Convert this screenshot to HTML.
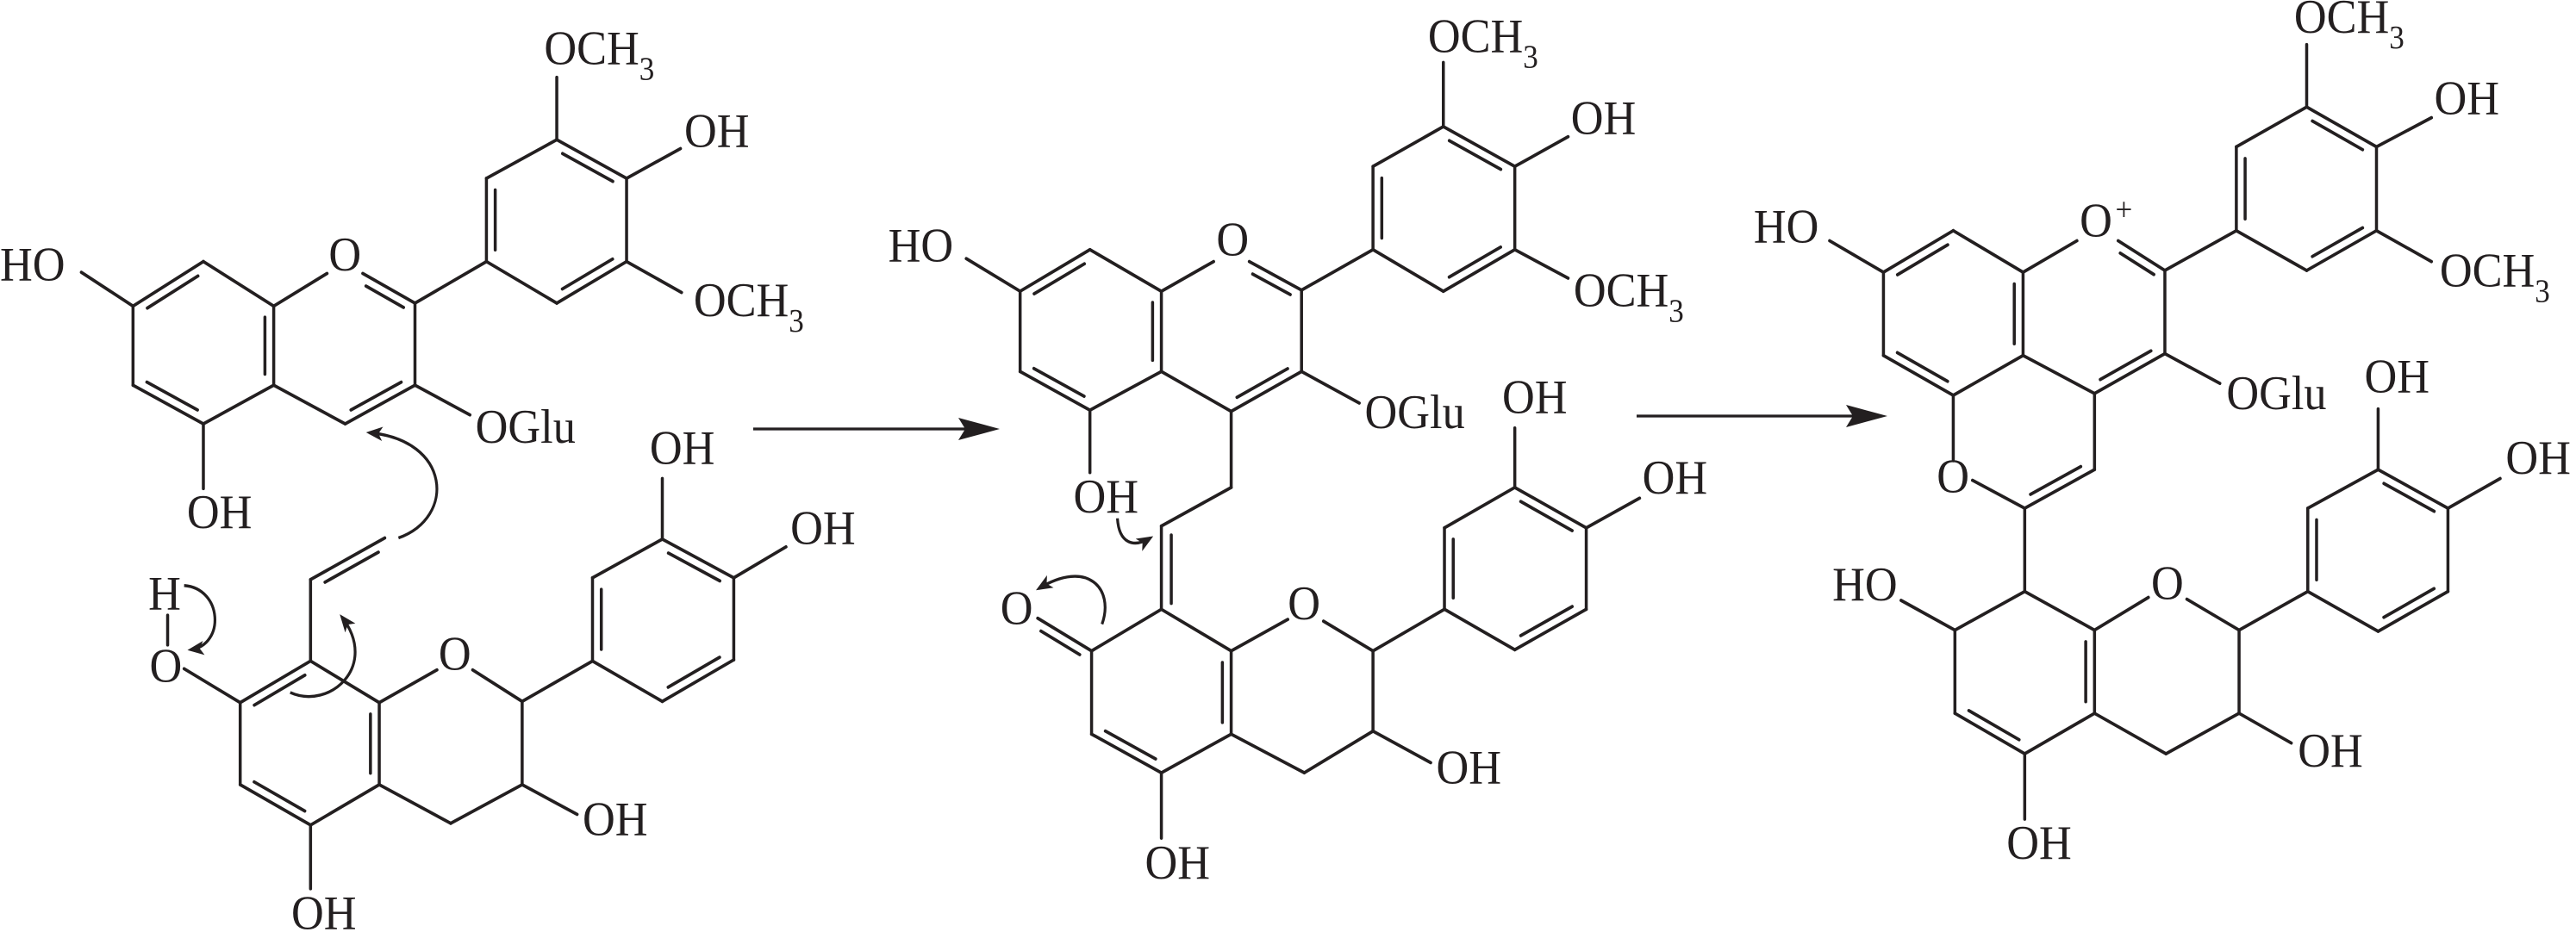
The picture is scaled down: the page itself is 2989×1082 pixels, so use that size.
<!DOCTYPE html>
<html><head><meta charset="utf-8"><style>
html,body{margin:0;padding:0;background:#fff;}
svg{display:block;}
text{font-family:"Liberation Serif",serif;fill:#231f20;}
</style></head><body>
<svg id="s" width="2989" height="1082" viewBox="0 0 2989 1082" xmlns="http://www.w3.org/2000/svg">
<defs>
<marker id="ah" viewBox="0 0 10 10" refX="8" refY="5" markerWidth="6" markerHeight="6" orient="auto" markerUnits="strokeWidth"><path d="M0,1 L10,5 L0,9 L2.5,5 z" fill="#231f20"/></marker>
</defs>
<!-- reaction arrows -->
<line x1="874" y1="498" x2="1125" y2="498" stroke="#231f20" stroke-width="3.2"/>
<polygon points="1160,498 1112,485 1120,498 1112,511" fill="#231f20"/>
<line x1="1899" y1="483" x2="2155" y2="483" stroke="#231f20" stroke-width="3.2"/>
<polygon points="2190,483 2142,470 2150,483 2142,496" fill="#231f20"/>

<g id="g1" transform="scale(0.63776,0.6901)" font-size="82">
<text x="0" y="472">HO</text>
<text x="340" y="888">OH</text>
<text x="598" y="455">O</text>
<text x="990" y="108">OCH<tspan font-size="55" dy="26">3</tspan></text>
<text x="1245" y="247">OH</text>
<text x="1262" y="532">OCH<tspan font-size="55" dy="26">3</tspan></text>
<text x="865" y="745">OGlu</text>
<text x="1182" y="780">OH</text>
<text x="1438" y="915">OH</text>
<text x="798" y="1127">O</text>
<text x="1060" y="1405">OH</text>
<text x="530" y="1563">OH</text>
<text x="270" y="1025">H</text>
<text x="272" y="1147">O</text>
<path d="M725,905 C830,870 820,740 672,728" fill="none" stroke="#231f20" stroke-width="5" marker-end="url(#ah)"/>
<path d="M528,1165 C600,1195 690,1120 622,1038" fill="none" stroke="#231f20" stroke-width="5" marker-end="url(#ah)"/>
<path d="M335,985 C405,990 410,1085 347,1093" fill="none" stroke="#231f20" stroke-width="5" marker-end="url(#ah)"/>
</g>

<g id="g2" transform="translate(1000,0) scale(0.63776,0.6901)" font-size="82">
<text x="48" y="440">HO</text>
<text x="385" y="862">OH</text>
<text x="645" y="430">O</text>
<text x="1030" y="88">OCH<tspan font-size="55" dy="26">3</tspan></text>
<text x="1290" y="225">OH</text>
<text x="1295" y="515">OCH<tspan font-size="55" dy="26">3</tspan></text>
<text x="915" y="720">OGlu</text>
<text x="1165" y="695">OH</text>
<text x="1420" y="830">OH</text>
<text x="252" y="1050">O</text>
<text x="775" y="1042">O</text>
<text x="1045" y="1318">OH</text>
<text x="515" y="1478">OH</text>
<path d="M465,872 C468,915 495,922 525,905" fill="none" stroke="#231f20" stroke-width="5" marker-end="url(#ah)"/>
<path d="M437,1050 C460,990 410,940 322,990" fill="none" stroke="#231f20" stroke-width="5" marker-end="url(#ah)"/>
</g>

<g id="g3" transform="translate(1989,0) scale(0.63776,0.6901)" font-size="82">
<text x="72" y="408">HO</text>
<text x="665" y="398">O</text><text x="730" y="370" font-size="55">+</text>
<text x="1055" y="55">OCH<tspan font-size="55" dy="26">3</tspan></text>
<text x="1310" y="192">OH</text>
<text x="1320" y="482">OCH<tspan font-size="55" dy="26">3</tspan></text>
<text x="932" y="688">OGlu</text>
<text x="405" y="828">O</text>
<text x="215" y="1010">HO</text>
<text x="795" y="1008">O</text>
<text x="1183" y="660">OH</text>
<text x="1440" y="797">OH</text>
<text x="1062" y="1290">OH</text>
<text x="532" y="1445">OH</text>
</g>
</svg>
<script>
(function(){
var NS="http://www.w3.org/2000/svg";
function L(g,a,b,c,d){var l=document.createElementNS(NS,"line");l.setAttribute("x1",a);l.setAttribute("y1",b);l.setAttribute("x2",c);l.setAttribute("y2",d);l.setAttribute("stroke","#231f20");l.setAttribute("stroke-width","5.5");l.setAttribute("stroke-linecap","round");g.appendChild(l);}
function D(g,a,b,c,d,cx,cy){var mx=(a+c)/2,my=(b+d)/2,dx=c-a,dy=d-b,len=Math.sqrt(dx*dx+dy*dy);var nx=-dy/len,ny=dx/len;if((cx-mx)*nx+(cy-my)*ny<0){nx=-nx;ny=-ny;}var o=16,s=0.14;L(g,a+dx*s+nx*o,b+dy*s+ny*o,c-dx*s+nx*o,d-dy*s+ny*o);}
function P(g,pts){for(var i=0;i<pts.length;i++){var p=pts[i],q=pts[(i+1)%pts.length];L(g,p[0],p[1],q[0],q[1]);}}
var g1=document.getElementById("g1"),g2=document.getElementById("g2"),g3=document.getElementById("g3");
// ---- molecule 1
P(g1,[[370,440],[498,515],[498,648],[370,713],[242,648],[242,515]]);
D(g1,370,440,242,515,370,580);D(g1,242,648,370,713,370,580);D(g1,498,515,498,648,370,580);
L(g1,498,515,595,460);L(g1,660,460,755,510);D(g1,660,460,755,510,628,580);L(g1,755,510,755,648);L(g1,755,648,628,713);D(g1,755,648,628,713,628,580);L(g1,628,713,498,648);
L(g1,148,458,242,515);L(g1,370,713,370,822);
L(g1,755,510,885,440);
P(g1,[[885,440],[885,300],[1013,235],[1140,300],[1140,440],[1013,510]]);
D(g1,885,300,885,440,1013,370);D(g1,1013,235,1140,300,1013,370);D(g1,1140,440,1013,510,1013,370);
L(g1,1013,235,1013,130);L(g1,1140,300,1238,250);L(g1,1140,440,1240,492);L(g1,755,648,855,698);
P(g1,[[565,1112],[690,1182],[690,1320],[565,1388],[437,1320],[437,1182]]);
D(g1,437,1182,565,1112,565,1250);D(g1,690,1182,690,1320,565,1250);D(g1,437,1320,565,1388,565,1250);
L(g1,690,1182,795,1127);L(g1,860,1127,950,1180);L(g1,950,1180,950,1320);L(g1,950,1320,820,1385);L(g1,820,1385,690,1320);
L(g1,950,1320,1050,1370);L(g1,565,1388,565,1495);
L(g1,950,1180,1078,1112);
P(g1,[[1078,1112],[1078,972],[1205,907],[1335,972],[1335,1110],[1205,1180]]);
D(g1,1078,972,1078,1112,1205,1042);D(g1,1205,907,1335,972,1205,1042);D(g1,1335,1110,1205,1180,1205,1042);
L(g1,1205,907,1205,805);L(g1,1335,972,1430,920);
L(g1,437,1182,335,1125);L(g1,305,1035,305,1085);
L(g1,565,1112,565,975);L(g1,565,975,700,905);D(g1,565,975,700,905,660,990);
// ---- molecule 2
P(g2,[[415,420],[545,490],[545,625],[415,690],[288,625],[288,490]]);
D(g2,415,420,288,490,415,555);D(g2,288,625,415,690,415,555);D(g2,545,490,545,625,415,555);
L(g2,545,490,640,440);L(g2,705,440,800,488);D(g2,705,440,800,488,672,555);L(g2,800,488,800,625);L(g2,800,625,672,692);D(g2,800,625,672,692,672,555);L(g2,672,692,545,625);
L(g2,190,435,288,490);L(g2,415,690,415,795);
L(g2,800,488,930,420);
P(g2,[[930,420],[930,280],[1058,213],[1188,280],[1188,420],[1058,490]]);
D(g2,930,280,930,420,1058,350);D(g2,1058,213,1188,280,1058,350);D(g2,1188,420,1058,490,1058,350);
L(g2,1058,213,1058,105);L(g2,1188,280,1285,230);L(g2,1188,420,1285,468);L(g2,800,625,905,678);
L(g2,672,692,672,820);L(g2,672,820,545,885);
L(g2,545,885,545,1025);L(g2,563,900,563,1015);
P(g2,[[545,1025],[672,1095],[672,1235],[545,1300],[418,1235],[418,1095]]);
D(g2,672,1095,672,1235,545,1165);D(g2,418,1235,545,1300,545,1165);
L(g2,418,1095,320,1040);D(g2,418,1095,320,1040,300,1100);
L(g2,672,1095,775,1042);L(g2,840,1045,930,1095);L(g2,930,1095,930,1230);L(g2,930,1230,805,1300);L(g2,805,1300,672,1235);
L(g2,930,1230,1035,1283);L(g2,545,1300,545,1410);
L(g2,930,1095,1060,1025);
P(g2,[[1060,1025],[1060,888],[1188,820],[1318,888],[1318,1025],[1188,1093]]);
D(g2,1060,888,1060,1025,1188,957);D(g2,1188,820,1318,888,1188,957);D(g2,1318,1025,1188,1093,1188,957);
L(g2,1188,820,1188,720);L(g2,1318,888,1415,838);
// ---- molecule 3
P(g3,[[435,388],[562,458],[562,598],[435,665],[308,598],[308,458]]);
D(g3,435,388,308,458,435,528);D(g3,308,598,435,665,435,528);D(g3,562,458,562,598,435,528);
L(g3,562,458,660,405);L(g3,735,405,820,455);D(g3,735,405,820,455,692,528);L(g3,820,455,820,595);L(g3,820,595,692,662);D(g3,820,595,692,662,692,528);L(g3,692,662,562,598);
L(g3,210,405,308,458);
L(g3,820,455,950,388);
P(g3,[[950,388],[950,247],[1078,180],[1205,247],[1205,388],[1078,455]]);
D(g3,950,247,950,388,1078,318);D(g3,1078,180,1205,247,1078,318);D(g3,1205,388,1078,455,1078,318);
L(g3,1078,180,1078,75);L(g3,1205,247,1305,198);L(g3,1205,388,1305,440);L(g3,820,595,920,645);
L(g3,692,662,692,790);L(g3,692,790,565,855);D(g3,692,790,565,855,565,725);L(g3,565,855,470,808);L(g3,435,775,435,665);
L(g3,565,855,565,995);
P(g3,[[565,995],[692,1060],[692,1200],[565,1268],[438,1200],[438,1060]]);
D(g3,692,1060,692,1200,565,1130);D(g3,438,1200,565,1268,565,1130);
L(g3,438,1060,340,1010);
L(g3,692,1060,790,1005);L(g3,860,1008,955,1060);L(g3,955,1060,955,1200);L(g3,955,1200,822,1268);L(g3,822,1268,692,1200);
L(g3,955,1200,1050,1250);L(g3,565,1268,565,1378);
L(g3,955,1060,1080,995);
P(g3,[[1080,995],[1080,855],[1208,790],[1335,855],[1335,995],[1208,1062]]);
D(g3,1080,855,1080,995,1208,925);D(g3,1208,790,1335,855,1208,925);D(g3,1335,995,1208,1062,1208,925);
L(g3,1208,790,1208,688);L(g3,1335,855,1430,805);
})();
</script>
</body></html>
